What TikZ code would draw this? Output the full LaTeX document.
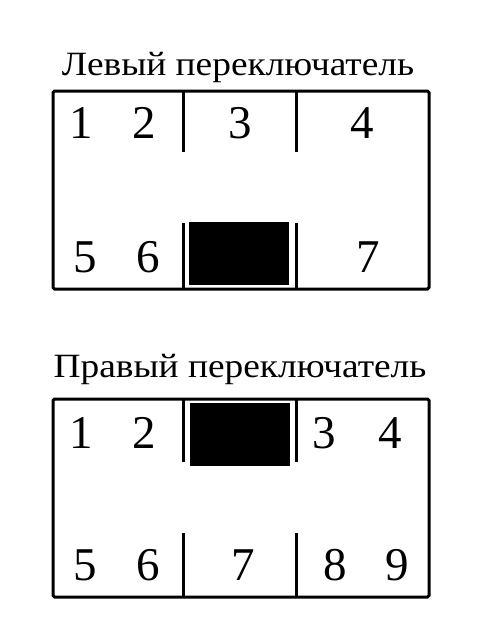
\documentclass[tikz,border=0pt]{standalone}
\usepackage{fontspec}
\setmainfont{Liberation Serif}
\newfontfamily\titlefont[FakeStretch=1.1]{Liberation Serif}
\newfontfamily\digitfont{Liberation Serif}
\begin{document}
\begin{tikzpicture}[x=1pt,y=-1pt,
  frame/.style={draw=black,line width=3pt,rounded corners=1.5pt},
  divider/.style={draw=black,line width=3pt},
  blk/.style={fill=black},
  digit/.style={anchor=base,inner sep=0pt,font=\digitfont\fontsize{47}{47}\selectfont},
  title/.style={anchor=base,inner sep=0pt,font=\titlefont\fontsize{34}{34}\selectfont}]
\useasboundingbox (0,0) rectangle (480,640);
% top switch
\node[title] (t1) at (238,75) {Левый переключатель};
\draw[frame] (53,91) rectangle (429,289);
\coordinate (a1) at (183,91); \coordinate (a2) at (183,152);
\coordinate (b1) at (296,91); \coordinate (b2) at (296,152);
\coordinate (c1) at (183,223); \coordinate (c2) at (183,289);
\coordinate (d1) at (296,223); \coordinate (d2) at (296,289);
\draw[divider] (a1) -- (a2);
\draw[divider] (b1) -- (b2);
\draw[divider] (c1) -- (c2);
\draw[divider] (d1) -- (d2);
\fill[blk] (189,222) rectangle (289,285);
\node[digit] (u1) at (81,138) {1};
\node[digit] (u2) at (144,138) {2};
\node[digit] (u3) at (240,138) {3};
\node[digit] (u4) at (362,138) {4};
\node[digit] (u5) at (85,272) {5};
\node[digit] (u6) at (148,272) {6};
\node[digit] (u7) at (368,272) {7};
% bottom switch
\node[title] (t2) at (240,377) {Правый переключатель};
\draw[frame] (53,399) rectangle (429,597);
\coordinate (e1) at (183,399); \coordinate (e2) at (183,462);
\coordinate (f1) at (296,399); \coordinate (f2) at (296,462);
\coordinate (g1) at (183,533); \coordinate (g2) at (183,597);
\coordinate (h1) at (296,533); \coordinate (h2) at (296,597);
\draw[divider] (e1) -- (e2);
\draw[divider] (f1) -- (f2);
\draw[divider] (g1) -- (g2);
\draw[divider] (h1) -- (h2);
\fill[blk] (190,403) rectangle (290,466);
\node[digit] (v1) at (81,448) {1};
\node[digit] (v2) at (144,448) {2};
\node[digit] (v3) at (324,448) {3};
\node[digit] (v4) at (390,448) {4};
\node[digit] (v5) at (85,580) {5};
\node[digit] (v6) at (148,580) {6};
\node[digit] (v7) at (243,580) {7};
\node[digit] (v8) at (335,580) {8};
\node[digit] (v9) at (397,580) {9};
\end{tikzpicture}
\end{document}
